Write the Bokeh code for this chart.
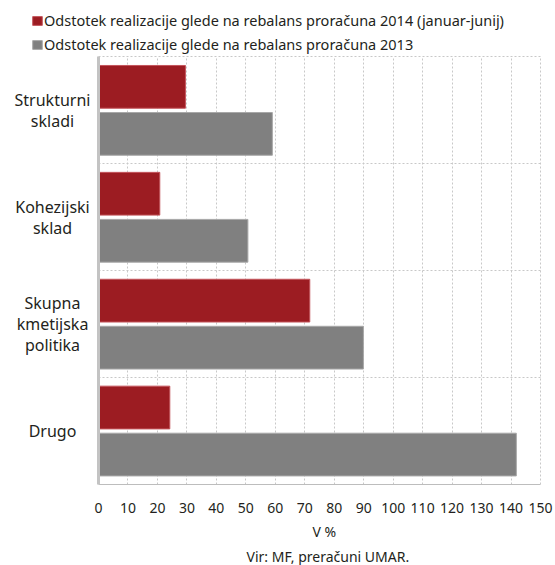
from bokeh.plotting import figure
from bokeh.models import ColumnDataSource, Legend, LegendItem, FixedTicker, LabelSet, Grid, Title
from bokeh.embed import file_html
from bokeh.resources import INLINE
from bokeh.core.properties import value

categories = ["Strukturni\nskladi", "Kohezijski\nsklad", "Skupna\nkmetijska\npolitika", "Drugo"]
real_2014 = [29.5, 20.8, 71.7, 24.2]
real_2013 = [59.0, 50.7, 89.9, 141.8]
x_ticks = list(range(0, 151, 10))
series_names = [
    "Odstotek realizacije glede na rebalans proračuna 2014 (januar-junij)",
    "Odstotek realizacije glede na rebalans proračuna 2013",
]
x_label = "V %"
source_note = "Vir: MF, preračuni UMAR."

FONT = "Noto Sans"
RED = "#9c1c22"
GREY = "#808080"
TXT = "#231f20"
GRID = "#c8c8c8"

# page geometry (pixels)
W, H = 555, 565
BOTTOM = 76
FRAME_H = H - BOTTOM
PLOT_L, PLOT_R, PLOT_T = 98, 540, 57
LINE_PX = 21

n = len(categories)
xmax = x_ticks[-1]
xs = (PLOT_R - PLOT_L) / xmax
ys = (FRAME_H - PLOT_T) / n
x_range = (-PLOT_L / xs, xmax + (W - PLOT_R) / xs)
y_range = (-0.5, n - 0.5 + PLOT_T / ys)

pos = [n - 1 - i for i in range(n)]
src = ColumnDataSource(dict(
    cat=categories, y=pos,
    y14=[p + 0.22 for p in pos], y13=[p - 0.22 for p in pos],
    v14=real_2014, v13=real_2013,
))

# one row per text line of the category labels (each line centred)
ln_text, ln_y, ln_off = [], [], []
for c, yv in zip(categories, pos):
    parts = c.split("\n")
    m = len(parts)
    for k, t in enumerate(parts):
        ln_text.append(t)
        ln_y.append(yv)
        ln_off.append(((m - 1) / 2 - k) * LINE_PX)
lines_src = ColumnDataSource(dict(text=ln_text, y=ln_y, off=ln_off))

p = figure(width=W, height=H, x_range=x_range, y_range=y_range,
           output_backend="svg", toolbar_location=None, y_axis_location=None,
           min_border_left=0, min_border_right=0, min_border_top=0, min_border_bottom=BOTTOM)
p.background_fill_color = "white"
p.border_fill_color = "white"
p.outline_line_color = None

r14 = p.hbar(y="y14", right="v14", left=0, height=0.40, source=src,
             fill_color=RED, line_color="#c4555c", line_width=1)
r13 = p.hbar(y="y13", right="v13", left=0, height=0.40, source=src,
             fill_color=GREY, line_color="#a8a8a8", line_width=1)

# x axis
xa = p.xaxis[0]
xa.bounds = (0, xmax)
xa.ticker = FixedTicker(ticks=x_ticks)
xa.major_tick_line_color = None
xa.minor_tick_line_color = None
xa.axis_line_color = "#bdbdbd"
xa.major_label_text_font = FONT
xa.major_label_text_font_size = "14px"
xa.major_label_text_color = TXT
xa.major_label_standoff = 12

p.add_layout(Title(text=x_label, align="left", offset=312, standoff=8, vertical_align="bottom",
                   text_font=FONT, text_font_size="14px", text_font_style="normal",
                   text_color=TXT), "below")
p.add_layout(Title(text=source_note, align="left", offset=246, standoff=0, vertical_align="bottom",
                   text_font=FONT, text_font_size="14px", text_font_style="normal",
                   text_color=TXT), "below")

# grids limited to the plotting box
p.xgrid.ticker = FixedTicker(ticks=x_ticks[1:])
p.xgrid.cross_bounds = (-0.5, n - 0.5)
p.xgrid.grid_line_color = GRID
p.xgrid.grid_line_dash = "2 2"
p.ygrid.ticker = FixedTicker(ticks=[i + 0.5 for i in range(n)])
p.ygrid.cross_bounds = (0, xmax)
p.ygrid.grid_line_color = GRID
p.ygrid.grid_line_dash = "2 2"
p.add_layout(Grid(dimension=0, ticker=FixedTicker(ticks=[0]), cross_bounds=(-0.5, n - 0.5),
                  grid_line_color="#c3c3c3", grid_line_width=3, level="overlay"))

# category labels, each line centred
p.add_layout(LabelSet(x=52, y="y", y_offset="off", x_units="screen", y_units="data",
                      text="text", source=lines_src,
                      text_align="center", text_baseline="middle",
                      text_font=value(FONT), text_font_size="16px", text_color=TXT))

legend = Legend(items=[LegendItem(label=series_names[0], renderers=[r14]),
                       LegendItem(label=series_names[1], renderers=[r13])],
                location=(31, FRAME_H - 59), orientation="vertical",
                label_text_font=FONT, label_text_font_size="14.5px", label_text_color=TXT,
                glyph_width=12, glyph_height=11, label_height=18, label_standoff=1,
                spacing=4, padding=0, margin=0,
                background_fill_alpha=0, border_line_color=None)
p.add_layout(legend)

open("out.html", "w").write(file_html(p, INLINE))
